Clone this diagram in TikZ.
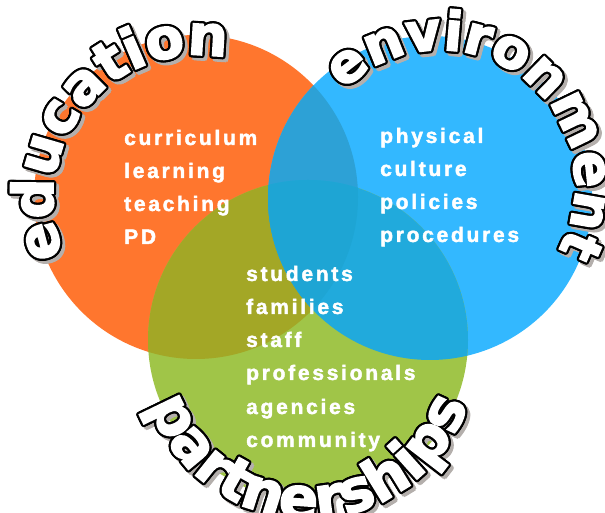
\documentclass[tikz,border=0pt]{standalone}
\usepackage{fontspec}
\usetikzlibrary{decorations.text}
\newfontfamily\labfont{Liberation Sans}[LetterSpace=13,FakeBold=2]
\newfontfamily\arcfont{DejaVu Sans}[FakeBold=3]
\definecolor{ora}{RGB}{255,118,46}
\definecolor{blu}{RGB}{51,184,255}
\definecolor{grn}{RGB}{160,197,72}
\definecolor{og}{RGB}{163,167,38}
\definecolor{ob}{RGB}{45,161,214}
\definecolor{bg}{RGB}{33,170,220}
\definecolor{obg}{RGB}{30,165,212}
\definecolor{shd}{RGB}{180,175,172}
\tikzset{
  lab/.style={anchor=base west, inner sep=0pt, text=white,
    font=\labfont\bfseries\fontsize{21}{21}\selectfont},
}
\newcommand\ArcWord[6]{%
  \foreach \ang in {0,45,...,315}{%
    \path[shift={(3pt,-3pt)}, shift={(\ang:2.2pt)}, decorate,
      decoration={text along path, text align=center, text color=shd,
      text={|\arcfont\bfseries\fontsize{#5}{#5}\selectfont|#6}}]
      ([shift={(#3:#2pt)}]#1) arc[start angle=#3, end angle=#4, radius=#2pt];
  }%
  \foreach \ang in {0,22.5,...,337.5}{%
    \path[shift={(\ang:2.2pt)}, decorate,
      decoration={text along path, text align=center, text color=black,
      text={|\arcfont\bfseries\fontsize{#5}{#5}\selectfont|#6}}]
      ([shift={(#3:#2pt)}]#1) arc[start angle=#3, end angle=#4, radius=#2pt];
  }%
  \path[decorate,
    decoration={text along path, text align=center, text color=white,
    text={|\arcfont\bfseries\fontsize{#5}{#5}\selectfont|#6}}]
    ([shift={(#3:#2pt)}]#1) arc[start angle=#3, end angle=#4, radius=#2pt];
}
\begin{document}
\begin{tikzpicture}[x=1pt,y=1pt]
\useasboundingbox (0,0) rectangle (605,513);
\coordinate (O) at (196,316);
\coordinate (B) at (430,315);
\coordinate (G) at (308,173);
\fill[ora] (O) circle (162pt);
\fill[blu] (B) circle (162pt);
\fill[grn] (G) circle (160pt);
\begin{scope}
  \clip (O) circle (162pt);
  \fill[og] (G) circle (160pt);
  \fill[ob] (B) circle (162pt);
\end{scope}
\begin{scope}
  \clip (B) circle (162pt);
  \fill[bg] (G) circle (160pt);
\end{scope}
\begin{scope}
  \clip (O) circle (162pt);
  \clip (B) circle (162pt);
  \fill[obg] (G) circle (160pt);
\end{scope}
% left labels
\node[lab] (l1) at (124,368) {curriculum};
\node[lab] (l2) at (124,335) {learning};
\node[lab] (l3) at (124,302) {teaching};
\node[lab] (l4) at (124,269) {PD};
% right labels
\node[lab] (r1) at (380,370) {physical};
\node[lab] (r2) at (380,337) {culture};
\node[lab] (r3) at (380,304) {policies};
\node[lab] (r4) at (380,271) {procedures};
% centre labels
\node[lab] (c1) at (246,232) {students};
\node[lab] (c2) at (246,199) {families};
\node[lab] (c3) at (246,166) {staff};
\node[lab] (c4) at (246,133) {professionals};
\node[lab] (c5) at (246,99) {agencies};
\node[lab] (c6) at (246,66) {community};
% arc words
\ArcWord{198,313}{145}{210.5}{70.5}{56}{education}
\ArcWord{440,328}{135}{133.3}{-26.7}{54}{environment}
\ArcWord{308.5,162.4}{168}{195}{345}{58}{partnerships}
\end{tikzpicture}
\end{document}
